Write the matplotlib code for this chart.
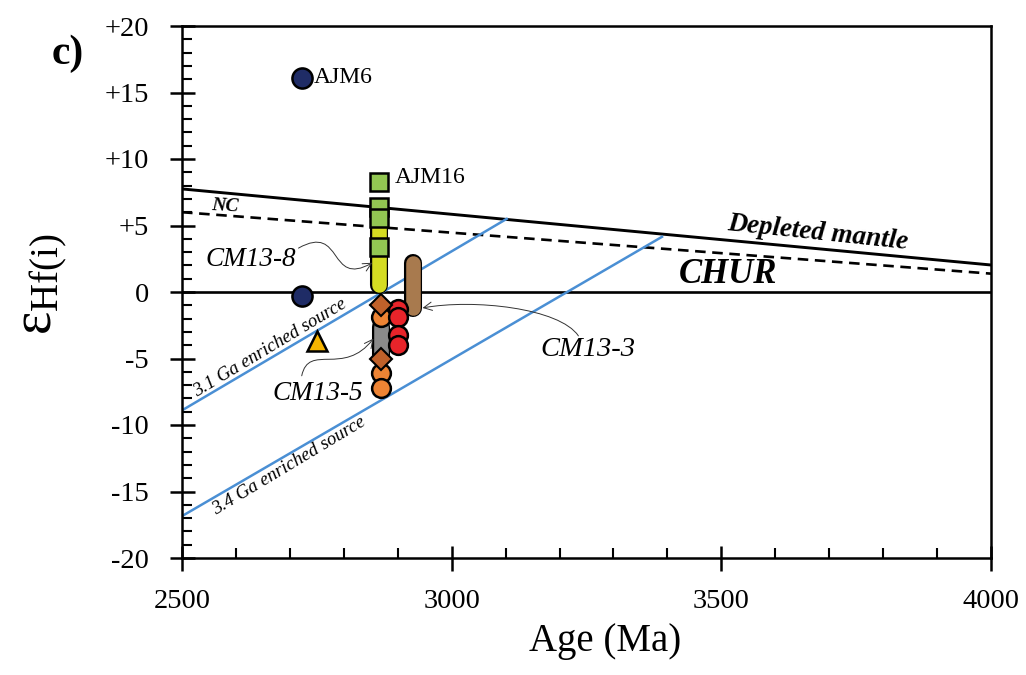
import matplotlib
matplotlib.use("Agg")
import matplotlib.pyplot as plt
from matplotlib.ticker import MultipleLocator
from matplotlib.patches import FancyArrowPatch
from matplotlib.path import Path

plt.rcParams['font.family'] = ['Liberation Serif', 'DejaVu Serif']
plt.rcParams['mathtext.fontset'] = 'custom'
plt.rcParams['mathtext.rm'] = 'Liberation Serif'
plt.rcParams['mathtext.it'] = 'Liberation Serif:italic'

# reference curves (age Ma, eHf)
dm_age, dm_ehf = [2500, 4000], [7.75, 2.03]
nc_age, nc_ehf = [2500, 4000], [6.0, 1.38]
chur_age, chur_ehf = [2500, 4000], [0.0, 0.0]
src31_age, src31_ehf = [2500, 3102], [-8.9, 5.5]
src34_age, src34_ehf = [2500, 3390], [-16.85, 4.15]

# samples
ajm6_age = [2723, 2723]
ajm6_ehf = [16.1, -0.3]
tri_age = [2751]
tri_ehf = [-3.7]
ajm16_age = [2866, 2866, 2866, 2866]
ajm16_ehf = [8.3, 6.4, 5.55, 3.4]
cm13_8_age = 2866
cm13_8_range = [0.55, 5.0]
cm13_5_age = 2869
cm13_5_range = [-2.6, -4.9]
cm13_5_circ_ehf = [-1.9, -6.1, -7.2]
cm13_5_diam_ehf = [-1.0, -5.0]
red_age = [2901, 2901, 2901, 2901]
red_ehf = [-1.3, -1.9, -3.2, -4.0]
cm13_3_age = 2929
cm13_3_range = [-1.2, 2.2]

fig = plt.figure(figsize=(10.26, 6.75), dpi=100)
ax = fig.add_axes([182/1026, 1-558/675, 809/1026, 532/675])

ax.plot(dm_age, dm_ehf, color='black', lw=2.1, zorder=2)
ax.plot(nc_age, nc_ehf, color='black', lw=1.9, ls=(0, (4, 2.5)), zorder=2)
ax.plot(chur_age, chur_ehf, color='black', lw=1.9, zorder=2)
ax.plot(src31_age, src31_ehf, color='#4a8fd4', lw=1.8, zorder=2)
ax.plot(src34_age, src34_ehf, color='#4a8fd4', lw=1.8, zorder=2)


def capsule(x, rng, color, z):
    ax.plot([x, x], rng, color='black', lw=13, solid_capstyle='round', zorder=z)
    ax.plot([x, x], rng, color=color, lw=10.5, solid_capstyle='round', zorder=z + 0.1)


capsule(cm13_8_age, cm13_8_range, '#d5dc22', 3)
capsule(cm13_3_age, cm13_3_range, '#a87a4e', 3)
capsule(cm13_5_age, cm13_5_range, '#8a8a8a', 3)

ax.plot(ajm16_age, ajm16_ehf, 's', ms=13, mfc='#92c652', mec='black', mew=1.8, ls='none', zorder=5)
ax.plot(ajm6_age, ajm6_ehf, 'o', ms=14.5, mfc='#1f2c66', mec='black', mew=1.8, ls='none', zorder=5)
ax.plot(tri_age, tri_ehf, '^', ms=14, mfc='#f7b500', mec='black', mew=1.8, ls='none', zorder=5)
ax.plot([cm13_5_age] * 3, cm13_5_circ_ehf, 'o', ms=13.5, mfc='#ee8434', mec='black', mew=1.8,
        ls='none', zorder=5)
ax.plot(red_age, red_ehf, 'o', ms=13.5, mfc='#e8242a', mec='black', mew=1.8, ls='none', zorder=6)
ax.plot([cm13_5_age] * 2, cm13_5_diam_ehf, 'D', ms=11, mfc='#c0612a', mec='black', mew=1.5,
        ls='none', zorder=7)

# labels
ax.text(2744, 16.1, 'AJM6', fontsize=17, va='center', ha='left')
ax.text(2895, 8.6, 'AJM16', fontsize=17, va='center', ha='left')
ax.text(2580, 6.45, 'NC', fontsize=14, fontweight='bold', style='italic',
        rotation=-3, ha='center', va='center')
ax.text(3679, 4.45, 'Depleted mantle', fontsize=19.5, fontweight='bold', style='italic',
        rotation=-6, ha='center', va='center', rotation_mode='anchor')
ax.text(3512, 1.3, 'CHUR', fontsize=25, fontweight='bold', style='italic',
        ha='center', va='center')
ax.text(2663, -4.2, '3.1 Ga enriched source', fontsize=13.5, style='italic',
        rotation=31, ha='center', va='center', rotation_mode='anchor')
ax.text(2699, -13.1, '3.4 Ga enriched source', fontsize=13.5, style='italic',
        rotation=31, ha='center', va='center', rotation_mode='anchor')
ax.text(2628, 2.45, 'CM13-8', fontsize=19.5, style='italic', ha='center', va='center')
ax.text(2751, -7.6, 'CM13-5', fontsize=19.5, style='italic', ha='center', va='center')
ax.text(3252, -4.35, 'CM13-3', fontsize=20.5, style='italic', ha='center', va='center')


def curvy_arrow(pts):
    path = Path(pts, [Path.MOVETO, Path.CURVE4, Path.CURVE4, Path.CURVE4])
    arr = FancyArrowPatch(path=path, arrowstyle='->,head_length=6,head_width=3',
                          color='#333333', lw=0.7, zorder=4)
    ax.add_patch(arr)


curvy_arrow([(2716, 3.3), (2800, 5.2), (2770, 0.3), (2853, 2.2)])
curvy_arrow([(2722, -6.3), (2735, -3.8), (2800, -6.4), (2855, -3.5)])
curvy_arrow([(3235, -3.3), (3200, -1.2), (3040, -0.5), (2946, -1.2)])

ax.set_xlim(2500, 4000)
ax.set_ylim(-20, 20)
ax.set_xticks([2500, 3000, 3500, 4000])
ax.xaxis.set_minor_locator(MultipleLocator(100))
ax.set_yticks([20, 15, 10, 5, 0, -5, -10, -15, -20])
ax.set_yticklabels(['+20', '+15', '+10', '+5', '0', '-5', '-10', '-15', '-20'])
ax.yaxis.set_minor_locator(MultipleLocator(1))
ax.tick_params(which='major', direction='inout', length=18, width=1.8, labelsize=20.5)
ax.tick_params(axis='y', which='major', pad=15)
ax.tick_params(axis='x', which='major', pad=13)
ax.tick_params(which='minor', direction='in', length=7, width=1.5)
for s in ax.spines.values():
    s.set_linewidth(1.8)

ax.set_xlabel('Age (Ma)', fontsize=28)
ax.xaxis.set_label_coords(0.523, -0.122)
ax.set_ylabel(r'$\mathrm{ε}_{\mathrm{Hf(i)}}$', fontsize=40)
ax.yaxis.set_label_coords(-0.14, 0.515)

fig.text(52/1026, 1-54/675, 'c)', fontsize=30, fontweight='bold', va='center', ha='left')

fig.savefig('out.png', dpi=100)
